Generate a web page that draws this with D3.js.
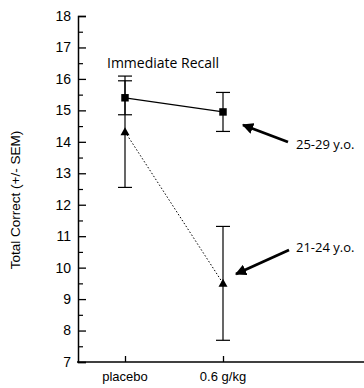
<!DOCTYPE html>
<html><head><meta charset="utf-8">
<script src="https://cdn.jsdelivr.net/npm/d3@7"></script>
<style>body{margin:0;background:#fff}svg{display:block}</style>
</head><body>
<script>
const categories = ["placebo", "0.6 g/kg"];
const olderMeans = [15.4, 14.95];
const olderSEM = [0.54, 0.62];
const youngerMeans = [14.32, 9.5];
const youngerSEM = [1.77, 1.81];
const yTicks = [7, 8, 9, 10, 11, 12, 13, 14, 15, 16, 17, 18];
const yMinorTicks = [7.5, 8.5, 9.5, 10.5, 11.5, 12.5, 13.5, 14.5, 15.5, 16.5, 17.5];
const groupLabels = ["25-29 y.o.", "21-24 y.o."];
const title = "Immediate Recall";
const yLabel = "Total Correct (+/- SEM)";

const W = 364, H = 388;
const svg = d3.select("body").append("svg").attr("width", W).attr("height", H);

const y = d3.scaleLinear().domain([7, 18]).range([362, 16]);
const x = d3.scalePoint().domain(categories).range([125, 223]);
const axX = 78;

// y axis
const ya = svg.append("g").attr("transform", `translate(${axX},0)`)
  .call(d3.axisRight(y).tickValues(yTicks).tickSize(8).tickFormat(""));
ya.select(".domain").attr("stroke-width", 1.5);
ya.selectAll(".tick line").attr("stroke-width", 1.3);
svg.append("g").attr("transform", `translate(${axX},0)`)
  .call(d3.axisRight(y).tickValues(yMinorTicks).tickSize(5).tickFormat(""))
  .call(g => g.select(".domain").remove())
  .selectAll(".tick line").attr("stroke-width", 1.2);
svg.append("g").selectAll("text").data(yTicks).join("text")
  .attr("x", axX - 7).attr("y", d => y(d)).attr("dy", "0.35em")
  .attr("text-anchor", "end").attr("font-family", "Liberation Sans, Arial, sans-serif")
  .attr("font-size", 14).text(d => d);

// x axis
const xa = svg.append("g").attr("transform", `translate(0,${y(7)})`)
  .call(d3.axisTop(x).tickSize(6).tickFormat(""));
xa.select(".domain").remove();
xa.selectAll(".tick line").attr("stroke-width", 1.3);
svg.append("line").attr("x1", axX - 1).attr("x2", W).attr("y1", y(7)).attr("y2", y(7))
  .attr("stroke", "#000").attr("stroke-width", 1.5);
svg.append("g").selectAll("text").data(categories).join("text")
  .attr("x", d => x(d)).attr("y", 381).attr("text-anchor", "middle")
  .attr("font-family", "Liberation Sans, Arial, sans-serif").attr("font-size", 13)
  .text(d => d);

// y label
svg.append("text").attr("transform", `translate(20,200) rotate(-90)`)
  .attr("text-anchor", "middle").attr("font-family", "Liberation Sans, Arial, sans-serif")
  .attr("font-size", 13.5).text(yLabel);

// title
svg.append("text").attr("x", 107).attr("y", 68).attr("font-family", "Open Sans, sans-serif")
  .attr("font-size", 14).text(title);

function series(means, sems, dotted) {
  const pts = categories.map((c, i) => ({c, m: means[i], s: sems[i]}));
  svg.append("path").datum(pts)
    .attr("d", d3.line().x(d => x(d.c)).y(d => y(d.m)))
    .attr("fill", "none").attr("stroke", "#000")
    .attr("stroke-width", dotted ? 1 : 1.3)
    .attr("stroke-dasharray", dotted ? "1.5,2" : null);
  const g = svg.append("g");
  pts.forEach(d => {
    g.append("line").attr("x1", x(d.c)).attr("x2", x(d.c))
      .attr("y1", y(d.m - d.s)).attr("y2", y(d.m + d.s)).attr("stroke", "#000").attr("stroke-width", 1.2);
    [d.m - d.s, d.m + d.s].forEach(v => g.append("line")
      .attr("x1", x(d.c) - 7).attr("x2", x(d.c) + 7).attr("y1", y(v)).attr("y2", y(v))
      .attr("stroke", "#000").attr("stroke-width", 1.2));
  });
  return pts;
}
const older = series(olderMeans, olderSEM, false);
const younger = series(youngerMeans, youngerSEM, true);

svg.append("g").selectAll("path").data(older).join("path")
  .attr("transform", d => `translate(${x(d.c)},${y(d.m)})`)
  .attr("d", d3.symbol(d3.symbolSquare, 56)).attr("fill", "#000");
svg.append("g").selectAll("path").data(younger).join("path")
  .attr("transform", d => `translate(${x(d.c)},${y(d.m)})`)
  .attr("d", "M-4.5,3.5L0,-4.5L4.5,3.5Z").attr("fill", "#000");

// arrows
svg.append("defs").append("marker").attr("id", "ah").attr("viewBox", "0 0 10 10")
  .attr("refX", 9).attr("refY", 5).attr("markerWidth", 4).attr("markerHeight", 4)
  .attr("orient", "auto").attr("markerUnits", "strokeWidth")
  .append("path").attr("d", "M0,0L10,5L0,10Z").attr("fill", "#000");
const arrows = [
  {x1: 288, y1: 142, x2: 243, y2: 125, label: groupLabels[0], ly: 144},
  {x1: 289, y1: 250, x2: 236, y2: 274, label: groupLabels[1], ly: 247}
];
arrows.forEach(a => {
  svg.append("line").attr("x1", a.x1).attr("y1", a.y1).attr("x2", a.x2).attr("y2", a.y2)
    .attr("stroke", "#000").attr("stroke-width", 2.8).attr("marker-end", "url(#ah)");
  svg.append("text").attr("x", 296).attr("y", a.ly).attr("dy", "0.35em")
    .attr("font-family", "Open Sans, sans-serif").attr("font-size", 13).text(a.label);
});
</script>
</body></html>
